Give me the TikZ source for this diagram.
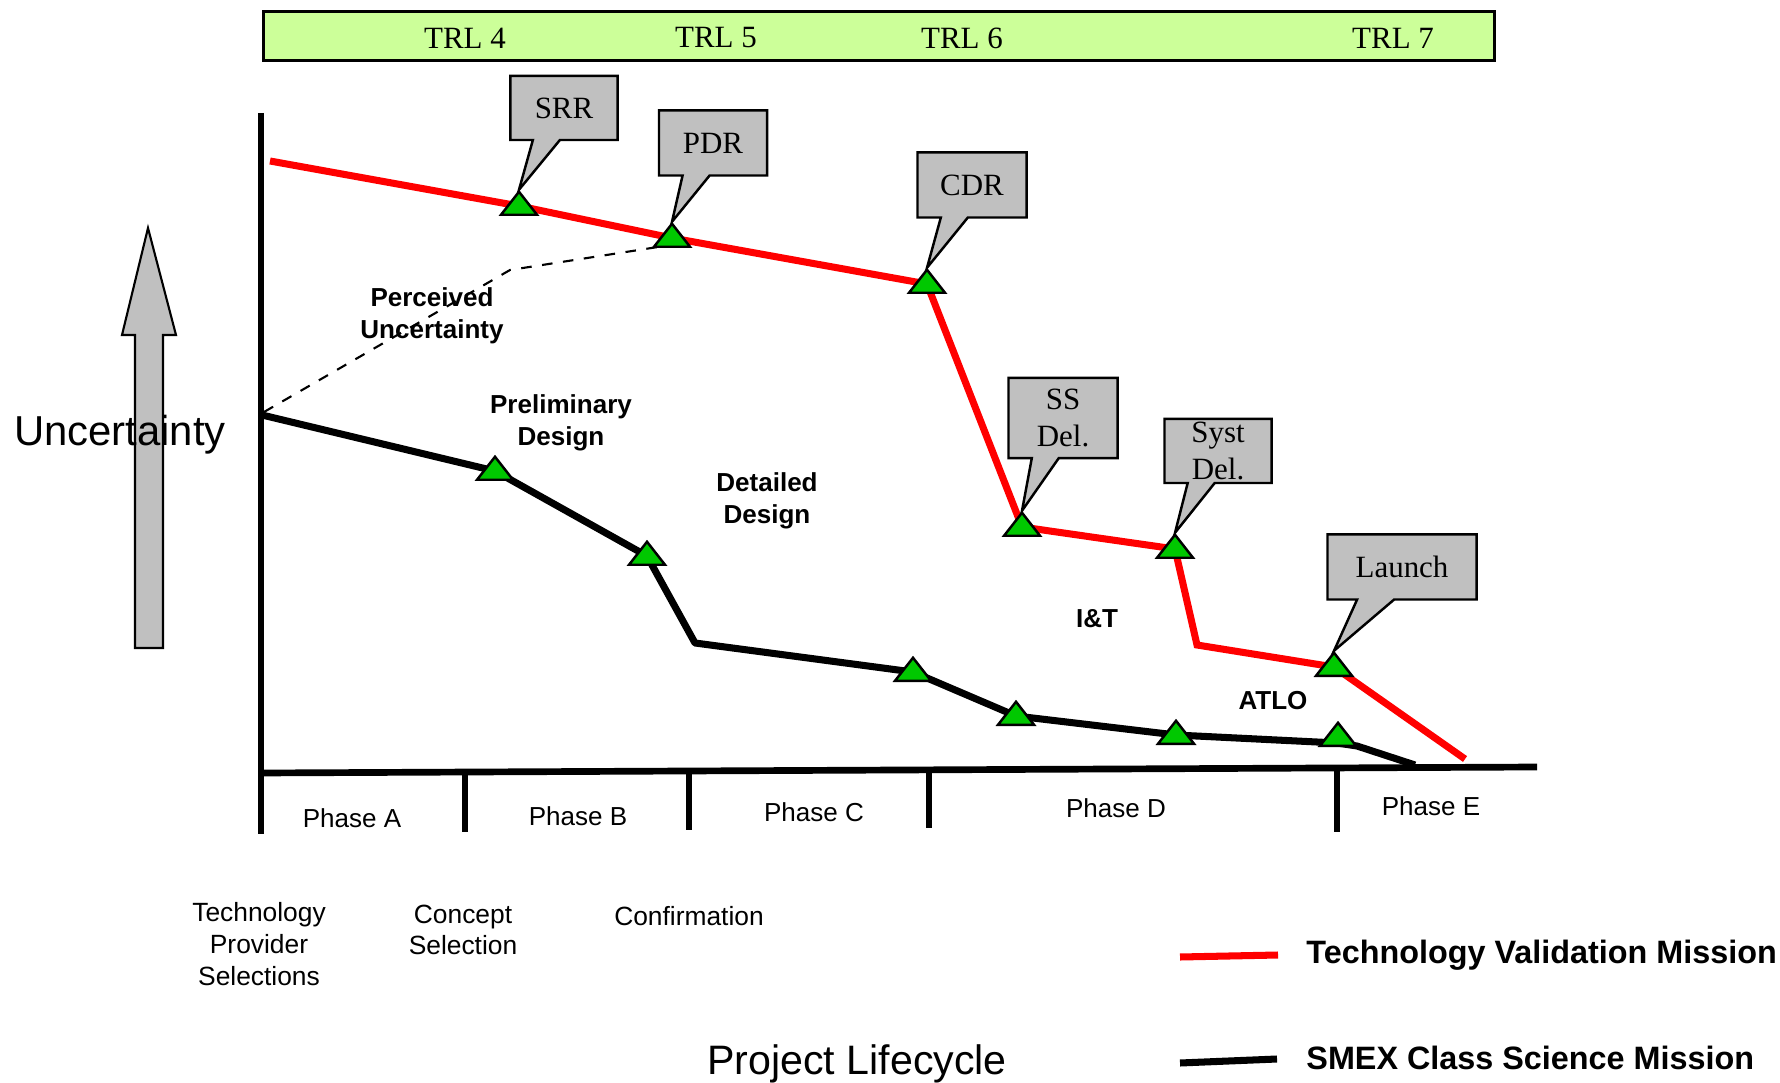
\documentclass[tikz,border=0pt]{standalone}
\usepackage{fontspec}
\setmainfont{Liberation Serif}
\setsansfont{Liberation Sans}
\usetikzlibrary{shapes.geometric,shapes.callouts}
\definecolor{trlgreen}{RGB}{204,255,153}
\definecolor{boxgray}{RGB}{192,192,192}
\definecolor{msgreen}{RGB}{0,200,0}

\begin{document}
\begin{tikzpicture}[x=0.01cm,y=-0.01cm,
    redline/.style={red,line width=2pt},
    blackline/.style={black,line width=2pt},
    milestone/.style={isosceles triangle,isosceles triangle apex angle=76,shape border rotate=90,
        minimum size=0.23cm,inner sep=0pt,fill=msgreen,draw=black,line width=0.7pt},
    review/.style={rectangle callout,fill=boxgray,draw=black,line width=0.7pt,
        callout pointer width=0.27cm,font=\fontsize{8.8}{10.5}\selectfont,align=center,inner sep=0pt},
    phase/.style={font=\sffamily\fontsize{7.4}{9}\selectfont},
    stage/.style={font=\sffamily\bfseries\fontsize{7.4}{9}\selectfont,align=center},
    gate/.style={font=\sffamily\fontsize{7.5}{9}\selectfont,align=center},
    legend/.style={font=\sffamily\bfseries\fontsize{9.2}{11}\selectfont,anchor=west}]
    \useasboundingbox (0,0) rectangle (1780,1083);

    % TRL bar
    \node[draw=black,fill=trlgreen,line width=0.8pt,minimum width=12.3cm,minimum height=0.49cm,inner sep=0pt] (trlbar) at (879,36) {};
    \foreach \x/\n in {465/4,716/5,962/6,1393/7}
        \node[font=\fontsize{8.8}{10.5}\selectfont] (trl\n) at (\x,38) {TRL \n};

    % uncertainty arrow
    \filldraw[fill=boxgray,draw=black,line width=0.6pt] (135,648)--(135,335)--(122,335)--(148,228)
        --(176,335)--(163,335)--(163,648)--cycle;
    \node[font=\sffamily\fontsize{11.9}{14}\selectfont] (uncert) at (120,435) {Uncertainty};

    % axes
    \draw[line width=1.9pt] (261,113)--(261,834);
    \draw[line width=1.9pt] (261,773)--(1537,767);
    \foreach \x/\a/\b in {465/772/832,689/771/830,929/770/828,1337/768/832}
        \draw[line width=1.5pt] (\x,\a)--(\x,\b);
    \node[phase] (phA) at (352,818) {Phase A};
    \node[phase] (phB) at (578,816) {Phase B};
    \node[phase] (phC) at (814,812) {Phase C};
    \node[phase] (phD) at (1116,808) {Phase D};
    \node[phase] (phE) at (1431,806) {Phase E};

    % milestone points
    \coordinate (srr) at (519,206);
    \coordinate (pdr) at (672,238);
    \coordinate (cdr) at (927,284);
    \coordinate (ss) at (1022,527);
    \coordinate (syst) at (1175,549);
    \coordinate (launch) at (1334,667);
    \coordinate (b1) at (495,471);
    \coordinate (b2) at (647,556);
    \coordinate (b3) at (913,672);
    \coordinate (b4) at (1016,716);
    \coordinate (b5) at (1176,735);
    \coordinate (b6) at (1338,737);

    \draw[dashed,line width=0.6pt] (264,412)--(510,270)--(658,247);
    \draw[redline] (270,161)--(srr)--(pdr)--(cdr)--(ss)--(syst)--(1197,645)--(launch)--(1465,759);
    \draw[blackline,line join=round] (262,415)--(b1)--(b2)--(695,643)--(b3)--(b4)--(b5)--(1337,743)--(1357,746)--(1415,765);

    \foreach \p in {srr,pdr,cdr,ss,syst,launch,b1,b2,b3,b4,b5,b6}
        \node[milestone] (\p m) at (\p) {};

    \node[review,minimum width=1.07cm,minimum height=0.64cm,callout absolute pointer=(srrm.apex)] (srrbox) at (564,108) {SRR};
    \node[review,minimum width=1.08cm,minimum height=0.65cm,callout absolute pointer=(pdrm.apex)] (pdrbox) at (713,143) {PDR};
    \node[review,minimum width=1.09cm,minimum height=0.65cm,callout absolute pointer=(cdrm.apex)] (cdrbox) at (972,185) {CDR};
    \node[review,minimum width=1.09cm,minimum height=0.80cm,callout absolute pointer=(ssm.apex)] (ssbox) at (1063,418) {SS\\Del.};
    \node[review,minimum width=1.07cm,minimum height=0.64cm,inner ysep=-2pt,callout absolute pointer=(systm.apex)] (systbox) at (1218,451) {Syst\\Del.};
    \node[review,minimum width=1.49cm,minimum height=0.65cm,callout pointer width=0.37cm,callout absolute pointer=(launchm.apex)] (launchbox) at (1402,567) {Launch};

    % stage labels
    \node[stage] (perc) at (432,316) {Perceived\\Uncertainty};
    \node[stage] (prelim) at (561,423) {Preliminary\\Design};
    \node[stage] (detail) at (767,501) {Detailed\\Design};
    \node[stage] (iandt) at (1097,619) {I\&T};
    \node[stage] (atlo) at (1273,701) {ATLO};

    % gates below
    \node[gate] (techsel) at (259,944) {Technology\\Provider\\Selections};
    \node[gate] (concept) at (463,930) {Concept\\Selection};
    \node[gate] (confirm) at (689,916) {Confirmation};
    \node[font=\sffamily\fontsize{11.7}{14}\selectfont] (lifecycle) at (857,1064) {Project Lifecycle};

    % legend
    \draw[redline] (1180,957)--(1278,955);
    \node[legend] (techval) at (1294,955) {Technology Validation Mission};
    \draw[blackline] (1180,1063)--(1277,1059);
    \node[legend] (smex) at (1294,1058) {SMEX Class Science Mission};
\end{tikzpicture}
\end{document}
